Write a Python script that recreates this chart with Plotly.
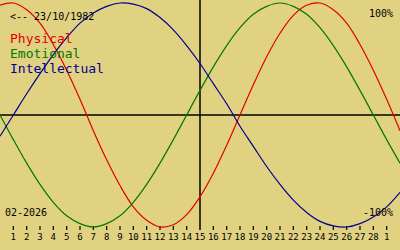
import plotly.graph_objects as go

# Days shown (Feb 2026 plus edges); x=29 is "1" of next month
days = list(range(0, 31))
physical = [0.98, 1.0, 0.94, 0.82, 0.63, 0.40, 0.14, -0.14, -0.40, -0.63, -0.82, -0.94, -1.0, -0.98,
            -0.89, -0.73, -0.52, -0.27, 0.0, 0.27, 0.52, 0.73, 0.89, 0.98, 1.0, 0.94, 0.82, 0.63,
            0.40, 0.14, -0.14]
emotional = [0.0, -0.22, -0.43, -0.62, -0.78, -0.90, -0.97, -1.0, -0.97, -0.90, -0.78, -0.62, -0.43,
             -0.22, 0.0, 0.22, 0.43, 0.62, 0.78, 0.90, 0.97, 1.0, 0.97, 0.90, 0.78, 0.62, 0.43,
             0.22, 0.0, -0.22, -0.43]
intellectual = [-0.19, 0.0, 0.19, 0.37, 0.54, 0.69, 0.82, 0.91, 0.97, 1.0, 0.99, 0.95, 0.87, 0.76,
                0.62, 0.46, 0.28, 0.10, -0.10, -0.28, -0.46, -0.62, -0.76, -0.87, -0.95, -0.99,
                -1.0, -0.97, -0.91, -0.82, -0.69]
tick_days = list(range(1, 30))
tick_labels = [str(d) for d in range(1, 29)] + ["1"]
birth_label = "<-- 23/10/1982"
month_label = "02-2026"
series_names = ["Physical", "Emotional", "Intellectual"]
series_colors = ["#e00000", "#007800", "#000090"]

W, H = 400, 250
Y0 = 115.0   # pixel of zero line
AMP = 112.0  # pixels per unit


def v(py):
    return (Y0 - py) / AMP


bg = "rgb(225,210,130)"
fig = go.Figure()

# axes lines
fig.add_trace(go.Scatter(x=[0, 30], y=[0, 0], mode="lines",
                         line=dict(color="black", width=1.5), hoverinfo="skip"))
fig.add_trace(go.Scatter(x=[15, 15], y=[v(0), v(230)], mode="lines",
                         line=dict(color="black", width=1.5), hoverinfo="skip"))

# ticks
tx, ty = [], []
for d in tick_days:
    if d == 15:
        continue
    tx += [d, d, None]
    ty += [v(226), v(230), None]
fig.add_trace(go.Scatter(x=tx, y=ty, mode="lines",
                         line=dict(color="black", width=1.2), hoverinfo="skip"))
fig.add_trace(go.Scatter(x=tick_days, y=[v(238)] * len(tick_days), mode="text",
                         text=tick_labels, textposition="middle center",
                         textfont=dict(family="DejaVu Sans Mono", size=9, color="black"),
                         hoverinfo="skip"))

for vals, col in zip([physical, emotional, intellectual], series_colors):
    fig.add_trace(go.Scatter(x=days, y=vals, mode="lines", line_shape="spline",
                             line=dict(color=col, width=1.2), hoverinfo="skip"))


def ann(text, px, py, size, color="black", anchor="left"):
    fig.add_annotation(x=px / W, y=1 - py / H, xref="paper", yref="paper",
                       text=text, showarrow=False, xanchor=anchor, yanchor="middle",
                       font=dict(family="DejaVu Sans Mono", size=size, color=color))


ann(birth_label.replace("<", "&lt;"), 8, 16.5, 10)
for i, (n, c) in enumerate(zip(series_names, series_colors)):
    ann(n, 8, 38 + 15.3 * i, 13, c)
ann("100%", 395, 13, 10, anchor="right")
ann("-100%", 395, 212, 10, anchor="right")
ann(month_label, 3, 212, 10)

fig.update_layout(width=W, height=H, margin=dict(l=0, r=0, t=0, b=0),
                  paper_bgcolor=bg, plot_bgcolor=bg, showlegend=False,
                  xaxis=dict(range=[0, 30], visible=False, fixedrange=True),
                  yaxis=dict(range=[v(H), v(0)], visible=False, fixedrange=True))
fig.write_html("out.html", config={"displayModeBar": False})
